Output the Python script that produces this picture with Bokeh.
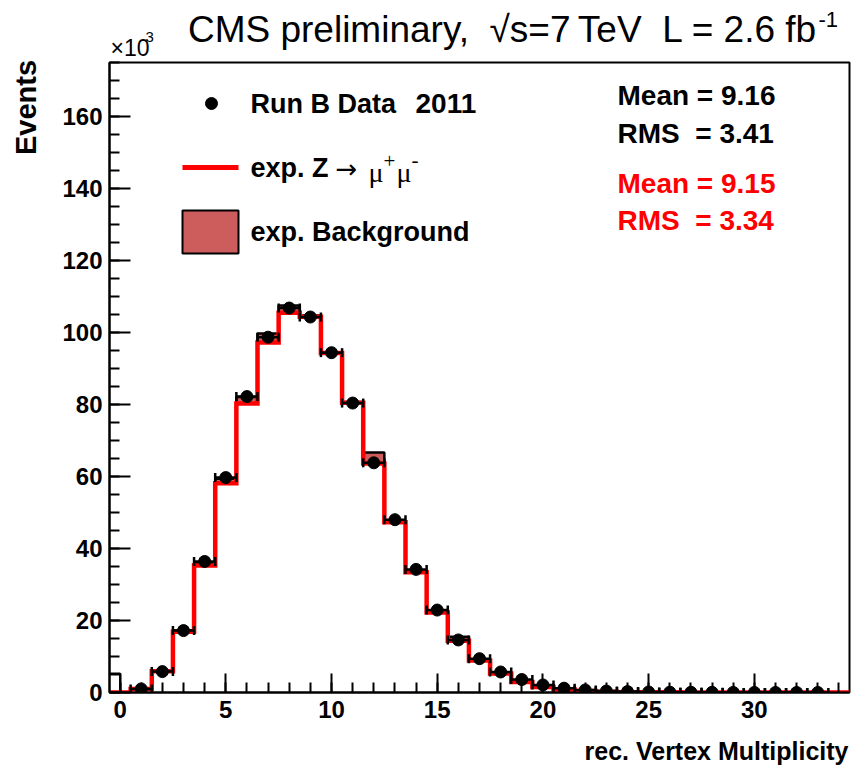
import numpy as np
from bokeh.plotting import figure
from bokeh.layouts import row, column
from bokeh.models import Range1d, FixedTicker, Label, ColumnDataSource
from bokeh.embed import file_html
from bokeh.resources import INLINE

# ---------------- data (events in units of 10^3) ----------------
bin_centers = list(range(0, 35))
data_counts = [0.0, 1.0, 5.8, 17.2, 36.4, 59.7, 82.2, 98.7, 106.8, 104.3,
               94.4, 80.4, 63.8, 48.0, 34.2, 22.9, 14.6, 9.4, 5.7, 3.6,
               2.1, 1.2, 0.7, 0.4, 0.25, 0.15, 0.1, 0.07, 0.05, 0.03,
               0.02, 0.015, 0.01, 0.01, 0.0]
z_mumu = [0.0, 1.0, 5.9, 16.9, 35.3, 58.1, 80.3, 97.2, 105.5, 104.4,
          94.3, 80.5, 63.6, 47.3, 33.4, 22.2, 14.4, 8.9, 5.3, 2.9,
          1.5, 0.8, 0.4, 0.2, 0.1, 0.06, 0.04, 0.03, 0.02, 0.01,
          0.01, 0.0, 0.0, 0.0, 0.0]
background = [0.0, 0.0, 0.2, 0.4, 0.6, 1.3, 1.8, 2.5, 2.0, 0.3,
              0.2, 0.2, 3.1, 0.5, 0.4, 0.4, 1.1, 0.3, 0.2, 0.2,
              0.1, 0.0, 0.0, 0.0, 0.0, 0.0, 0.0, 0.0, 0.0, 0.0,
              0.0, 0.0, 0.0, 0.0, 0.0]
first_bin_outline = 5.3
x_major_ticks = [0, 5, 10, 15, 20, 25, 30]
y_major_ticks = [0, 20, 40, 60, 80, 100, 120, 140, 160]
stats_data = ["Mean = 9.16", "RMS\u00a0 = 3.41"]
stats_mc = ["Mean = 9.15", "RMS\u00a0 = 3.34"]
legend_labels = ["Run B Data", "2011", "exp. Z", "exp. Background"]

XMIN, XMAX, YMIN, YMAX = -0.5, 34.5, 0.0, 175.0
W, H = 856, 771
FL, FR, FT, FB = 109, 849, 62, 692   # frame pixel edges on the page
LEFT_W = 50                           # left strip (y title)
TOP_H = 60                            # top strip (title, x10^3)
BOT_Y = 732                           # bottom strip starts (x title)

FONT = "Liberation Sans"

def dx(px):
    return XMIN + (px - FL) * (XMAX - XMIN) / (FR - FL)

def dy(py):
    return YMIN + (FB - py) * (YMAX - YMIN) / (FB - FT)

def strip(w, h, x_lo, x_hi, y0, bl=0, br=0):
    f = figure(width=w, height=h, x_range=Range1d(x_lo, x_hi), y_range=Range1d(y0 + h, y0),
               output_backend="svg", toolbar_location=None,
               x_axis_location=None, y_axis_location=None,
               min_border_left=bl, min_border_right=br, min_border_top=0, min_border_bottom=0)
    f.outline_line_color = None
    f.background_fill_color = "white"
    f.border_fill_color = "white"
    f.xgrid.visible = False
    f.ygrid.visible = False
    return f

def lab(fig, x, y, text, size, color="black", style="bold", align="left", baseline="middle",
        font=FONT, angle=0.0):
    fig.add_layout(Label(x=x, y=y, text=text, text_font=font, text_font_size=size,
                         text_font_style=style, text_color=color, text_align=align,
                         text_baseline=baseline, angle=angle))

# ---------------- main figure ----------------
p = figure(width=W - LEFT_W, height=BOT_Y - TOP_H,
           x_range=Range1d(XMIN, XMAX), y_range=Range1d(YMIN, YMAX),
           output_backend="svg", toolbar_location=None,
           min_border_left=FL - LEFT_W, min_border_right=W - FR,
           min_border_top=FT - TOP_H, min_border_bottom=BOT_Y - FB)
p.background_fill_color = "white"
p.border_fill_color = "white"
p.outline_line_color = "black"
p.outline_line_width = 2
p.xgrid.visible = False
p.ygrid.visible = False

centers = np.array(bin_centers, dtype=float)
edges_lo = centers - 0.5
edges_hi = centers + 0.5
z = np.array(z_mumu)
bkg = np.array(background)
dat = np.array(data_counts)

# background stacked on Z
mask_b = bkg > 0
p.quad(left=edges_lo[mask_b], right=edges_hi[mask_b], bottom=z[mask_b], top=(z + bkg)[mask_b],
       fill_color="#cd5c5c", line_color="black", line_width=2.5)

p.line(x=[XMIN, 0.0, 0.0], y=[first_bin_outline, first_bin_outline, 0.0], line_color="black", line_width=2)

# Z -> mu mu outline
sx, sy = [edges_lo[0]], [0.0]
for lo, hi, v in zip(edges_lo, edges_hi, z):
    sx += [lo, hi]
    sy += [v, v]
sx.append(edges_hi[-1]); sy.append(0.0)
p.line(x=sx, y=sy, line_color="#ff0000", line_width=4.5, line_join="miter")

# data
mask_d = dat > 0
src = ColumnDataSource(dict(x=centers[mask_d], y=dat[mask_d], lo=edges_lo[mask_d], hi=edges_hi[mask_d]))
p.segment(x0="lo", x1="hi", y0="y", y1="y", source=src, line_color="black", line_width=2.5)
p.scatter(x="lo", y="y", source=src, marker="dash", angle=np.pi / 2, size=9, line_color="black", line_width=2.5)
p.scatter(x="hi", y="y", source=src, marker="dash", angle=np.pi / 2, size=9, line_color="black", line_width=2.5)
p.scatter(x="x", y="y", source=src, marker="circle", size=12, fill_color="black", line_color="black")

for ax in (p.xaxis[0], p.yaxis[0]):
    ax.axis_line_width = 2
    ax.axis_line_color = "black"
    ax.major_tick_line_width = 2
    ax.minor_tick_line_width = 2
    ax.major_tick_line_color = "black"
    ax.minor_tick_line_color = "black"
    ax.major_tick_out = 0
    ax.minor_tick_out = 0
    ax.major_label_text_font = FONT
    ax.major_label_text_font_style = "bold"
    ax.major_label_text_color = "black"
    ax.axis_label = None

p.xaxis.ticker = FixedTicker(ticks=x_major_ticks, minor_ticks=bin_centers)
p.xaxis.major_tick_in = 19
p.xaxis.minor_tick_in = 10
p.xaxis.major_label_text_font_size = "24px"
p.xaxis.major_label_standoff = 8

p.yaxis.ticker = FixedTicker(ticks=y_major_ticks, minor_ticks=list(range(0, 176, 5)))
p.yaxis.major_tick_in = 21
p.yaxis.minor_tick_in = 10
p.yaxis.major_label_text_font_size = "24px"
p.yaxis.major_label_standoff = 7

# legend (inside frame)
p.scatter(x=[dx(211)], y=[dy(103)], marker="circle", size=12, color="black")
p.line(x=[dx(182), dx(238)], y=[dy(167), dy(167)], line_color="#ff0000", line_width=5)
p.quad(left=[dx(182)], right=[dx(238)], bottom=[dy(253)], top=[dy(210)],
       fill_color="#cd5c5c", line_color="black", line_width=2)

def plab(px, py, text, size, **kw):
    lab(p, dx(px), dy(py), text, size, **kw)

plab(250, 103, legend_labels[0], "27px")
plab(415, 103, legend_labels[1], "28px")
plab(250, 167, legend_labels[2], "27px")
plab(335, 168, "\u2192", "26px", style="normal", font="DejaVu Sans")
plab(368, 172, "\u03bc", "28px", style="normal", font="Liberation Serif")
plab(383, 160, "+", "21px", style="normal", font="Liberation Serif")
plab(396, 172, "\u03bc", "28px", style="normal", font="Liberation Serif")
plab(411, 159, "-", "21px", style="normal", font="Liberation Serif")
plab(250, 231, legend_labels[3], "27px")

plab(617, 95, stats_data[0], "28px")
plab(617, 133, stats_data[1], "28px")
plab(617, 183, stats_mc[0], "28px", color="#ff0000")
plab(617, 220, stats_mc[1], "28px", color="#ff0000")

# ---------------- text strips around the plot (frames aligned with main frame) ----------------
top = strip(W - LEFT_W, TOP_H, FL, FR, 0, bl=FL - LEFT_W, br=W - FR)
lab(top, 817, 29, "CMS preliminary,\u00a0 \u221as=7\u2009TeV\u00a0 L = 2.6 fb", "37px",
    style="normal", align="right")
lab(top, 818, 19, "-1", "22px", style="normal")
lab(top, 110, 47, "\u00d710", "23px", style="normal")
lab(top, 145, 36, "3", "15px", style="normal")

left = strip(LEFT_W, H, 0, LEFT_W, 0)
lab(left, 25, 107, "Events", "29px", align="center", angle=np.pi / 2)

bottom = strip(W - LEFT_W, H - BOT_Y, FL, FR, BOT_Y, bl=FL - LEFT_W, br=W - FR)
lab(bottom, 848, 750, "rec. Vertex Multiplicity", "25px", align="right")

layout = row(left, column(top, p, bottom, spacing=0), spacing=0)
open("out.html", "w").write(file_html(layout, INLINE))
